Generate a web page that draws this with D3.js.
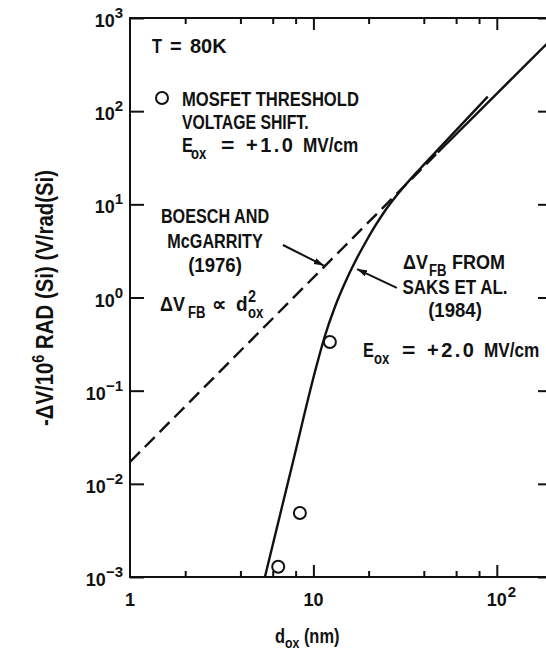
<!DOCTYPE html>
<html>
<head>
<meta charset="utf-8">
<script src="https://cdn.jsdelivr.net/npm/d3@7"></script>
<style>
  html, body { margin: 0; padding: 0; background: #fff; }
  svg { display: block; }
  text { font-family: 'Liberation Sans', Arial, sans-serif; font-weight: bold; fill: #111; }
</style>
</head>
<body>
<script>
// Oxide thickness (nm) vs. radiation-induced voltage shift per Mrad(Si), T = 80 K
const mosfetDox = [6.43, 8.44, 12.3];
const mosfetDv  = [0.00129, 0.00486, 0.333];

// Flat-band shift after Saks et al. (1984), Eox = +2.0 MV/cm
const saksDox = [5.44, 7.73, 10.19, 11.55, 13.10, 14.85, 16.84, 19.09, 21.63, 24.53, 29.61, 38.05, 48.91, 89.3];
const saksDv  = [0.001, 0.01707, 0.1587, 0.3863, 0.791, 1.431, 2.405, 3.80, 5.785, 8.48, 13.73, 23.95, 40.6, 143];

// Boesch and McGarrity (1976), dV ~ dox^2: dashed part and its solid continuation
const boeschDashDox = [1, 47.7];
const boeschDashDv  = [0.0172, 36];
const boeschSolidDox = [47.7, 200];
const boeschSolidDv  = [36, 600];

// Annotation arrows (tail, tip) in data units
const arrowBoesch = [[6.82, 3.66], [11.4, 2.2]];
const arrowSaks   = [[28.5, 1.27], [17.3, 2.02]];

// Axes
const xDomain = [1, 200];
const yDomain = [1e-3, 1e3];
const xMinorTicks = [2, 4, 6, 8, 20, 40, 60, 80];
const xMajorTicks = [10, 100];
const xTickLabels = [[1, "1", ""], [10, "10", ""], [100, "10", "2"]];
const yTicks = [1e-3, 1e-2, 1e-1, 1, 10, 100, 1000];
const yTickExps = ["\u22123", "\u22122", "\u22121", "0", "1", "2", "3"];

const W = 546, H = 650;
const svg = d3.select("body").append("svg").attr("width", W).attr("height", H);

const x = d3.scaleLog().domain(xDomain).range([130, 552]);
const y = d3.scaleLog().domain(yDomain).range([577, 18]);

const defs = svg.append("defs");
defs.append("clipPath").attr("id", "plot")
  .append("rect").attr("x", 130).attr("y", 18).attr("width", 422).attr("height", 559);
defs.append("marker").attr("id", "head")
  .attr("markerUnits", "userSpaceOnUse")
  .attr("viewBox", "0 0 10 8").attr("markerWidth", 10).attr("markerHeight", 8)
  .attr("refX", 10).attr("refY", 4).attr("orient", "auto")
  .append("path").attr("d", "M0,0.8 L10,4 L0,7.2 Z").attr("fill", "#111");

// text at (xp, yp), squeezed horizontally by sx (condensed lettering)
function ctext(xp, yp, size, opts = {}) {
  const sx = opts.sx ?? 0.82;
  const g = svg.append("g")
    .attr("transform", `translate(${xp},${yp}) ${opts.rot || ""} scale(${sx},1)`);
  const t = g.append("text").attr("font-size", size)
    .attr("text-anchor", opts.anchor || "start");
  if (opts.ls) t.attr("letter-spacing", opts.ls);
  t.node().__sx = sx;
  return t;
}
function width(t) { return t.node().getComputedTextLength() * t.node().__sx; }

// frame
svg.append("rect").attr("x", 130).attr("y", 18).attr("width", 422).attr("height", 559)
  .attr("fill", "none").attr("stroke", "#111").attr("stroke-width", 2);

function styleAxis(g) {
  g.select(".domain").remove();
  g.selectAll(".tick line").attr("stroke", "#111").attr("stroke-width", 2);
  g.selectAll(".tick text").remove();
}
// bottom and top ticks point into the plot
svg.append("g").attr("transform", "translate(0,577)")
  .call(d3.axisTop(x).tickValues(xMinorTicks).tickSize(6).tickFormat("")).call(styleAxis);
svg.append("g").attr("transform", "translate(0,577)")
  .call(d3.axisTop(x).tickValues(xMajorTicks).tickSize(12).tickFormat("")).call(styleAxis);
svg.append("g").attr("transform", "translate(0,18)")
  .call(d3.axisBottom(x).tickValues(xMinorTicks).tickSize(6).tickFormat("")).call(styleAxis);
svg.append("g").attr("transform", "translate(0,18)")
  .call(d3.axisBottom(x).tickValues(xMajorTicks).tickSize(12).tickFormat("")).call(styleAxis);
// left and right decade ticks
svg.append("g").attr("transform", "translate(130,0)")
  .call(d3.axisRight(y).tickValues(yTicks).tickSize(14).tickFormat("")).call(styleAxis);
svg.append("g").attr("transform", "translate(552,0)")
  .call(d3.axisLeft(y).tickValues(yTicks).tickSize(14).tickFormat("")).call(styleAxis);

// y tick labels: 10 with exponent
yTicks.forEach((v, i) => {
  const t = ctext(123, y(v) + 9, 18, {anchor: "end", sx: 1});
  t.append("tspan").text("10");
  t.append("tspan").attr("dy", -9).attr("font-size", 15).text(yTickExps[i]);
});
// x tick labels
xTickLabels.forEach(([v, base, exp]) => {
  const t = ctext(x(v), 606, 18, {anchor: "middle", sx: 1}).text(base);
  if (exp) ctext(x(v) + width(t) / 2 + 1, 597, 15, {sx: 1}).text(exp);
});

// axis titles
{
  const t = ctext(275, 643, 20);
  t.append("tspan").text("d");
  t.append("tspan").attr("dy", 5).attr("font-size", 15).text("ox");
  t.append("tspan").attr("dy", -5).text(" (nm)");
}
{
  const t = ctext(53, 298, 24, {anchor: "middle", rot: "rotate(-90)", sx: 0.85});
  t.append("tspan").text("-\u0394V/10");
  t.append("tspan").attr("dy", -9).attr("font-size", 17).text("6");
  t.append("tspan").attr("dy", 9).text(" RAD (Si) (V/rad(Si)");
}

const plot = svg.append("g").attr("clip-path", "url(#plot)");
const line = d3.line().x(d => x(d[0])).y(d => y(d[1]));

plot.append("path")
  .datum(boeschDashDox.map((d, i) => [d, boeschDashDv[i]]))
  .attr("d", line).attr("fill", "none").attr("stroke", "#111")
  .attr("stroke-width", 2.4).attr("stroke-dasharray", "14,7");
plot.append("path")
  .datum(boeschSolidDox.map((d, i) => [d, boeschSolidDv[i]]))
  .attr("d", line).attr("fill", "none").attr("stroke", "#111").attr("stroke-width", 2.4);
plot.append("path")
  .datum(saksDox.map((d, i) => [d, saksDv[i]]))
  .attr("d", d3.line().x(d => x(d[0])).y(d => y(d[1])).curve(d3.curveMonotoneX))
  .attr("fill", "none").attr("stroke", "#111").attr("stroke-width", 2.4);

plot.selectAll("circle.pt").data(mosfetDox.map((d, i) => [d, mosfetDv[i]]))
  .join("circle").attr("class", "pt")
  .attr("cx", d => x(d[0])).attr("cy", d => y(d[1])).attr("r", 6)
  .attr("fill", "#fff").attr("stroke", "#111").attr("stroke-width", 2);

// arrows
[arrowBoesch, arrowSaks].forEach(a => {
  svg.append("line")
    .attr("x1", x(a[0][0])).attr("y1", y(a[0][1]))
    .attr("x2", x(a[1][0])).attr("y2", y(a[1][1]))
    .attr("stroke", "#111").attr("stroke-width", 2).attr("marker-end", "url(#head)");
});

// annotation lines, each a row of pieces: [x, text, kind, sx, letterSpacing]
// kind: "" normal, "sub" subscript, "sup" superscript
function row(yp, pieces) {
  pieces.forEach(([xp, s, kind, sx, ls]) => {
    const dy = kind === "sub" ? 7 : kind === "sup" ? -9 : 0;
    ctext(xp, yp + dy, kind ? 16 : 20, {sx: sx ?? 0.82, ls}).text(s);
  });
}
row(53, [[152, "T"], [170, "=", "", 1], [190, "80K", "", 1]]);
svg.append("circle").attr("cx", 162).attr("cy", 98).attr("r", 6)
  .attr("fill", "#fff").attr("stroke", "#111").attr("stroke-width", 2);
ctext(182, 106, 20, {sx: 0.83}).text("MOSFET THRESHOLD");
ctext(182, 129, 20, {sx: 0.79}).text("VOLTAGE SHIFT.");
row(152, [[182, "E"], [191, "ox", "sub"], [221, "=", "", 1.15],
          [246, "+1.0", "", 1, 2.5], [303, "MV/cm", "", 0.86]]);

ctext(215, 223, 20, {anchor: "middle", sx: 0.81}).text("BOESCH AND");
ctext(215, 248, 20, {anchor: "middle", sx: 0.81}).text("McGARRITY");
ctext(215, 272, 20, {anchor: "middle", sx: 0.93}).text("(1976)");
row(311, [[160, "\u0394V", "", 0.9], [188, "FB", "sub"], [212, "\u221D", "", 1],
          [236, "d", "", 0.95], [248, "2", "sup", 0.9], [248, "ox", "sub"]]);

row(269, [[403, "\u0394V", "", 0.9], [429, "FB", "sub"], [452, "FROM", "", 0.9]]);
ctext(455, 294, 20, {anchor: "middle", sx: 0.85}).text("SAKS ET AL.");
ctext(455, 317, 20, {anchor: "middle", sx: 0.93}).text("(1984)");
row(357, [[363, "E"], [374, "ox", "sub"], [402, "=", "", 1.15],
          [427, "+2.0", "", 1, 2.5], [484, "MV/cm", "", 0.86]]);
</script>
</body>
</html>
